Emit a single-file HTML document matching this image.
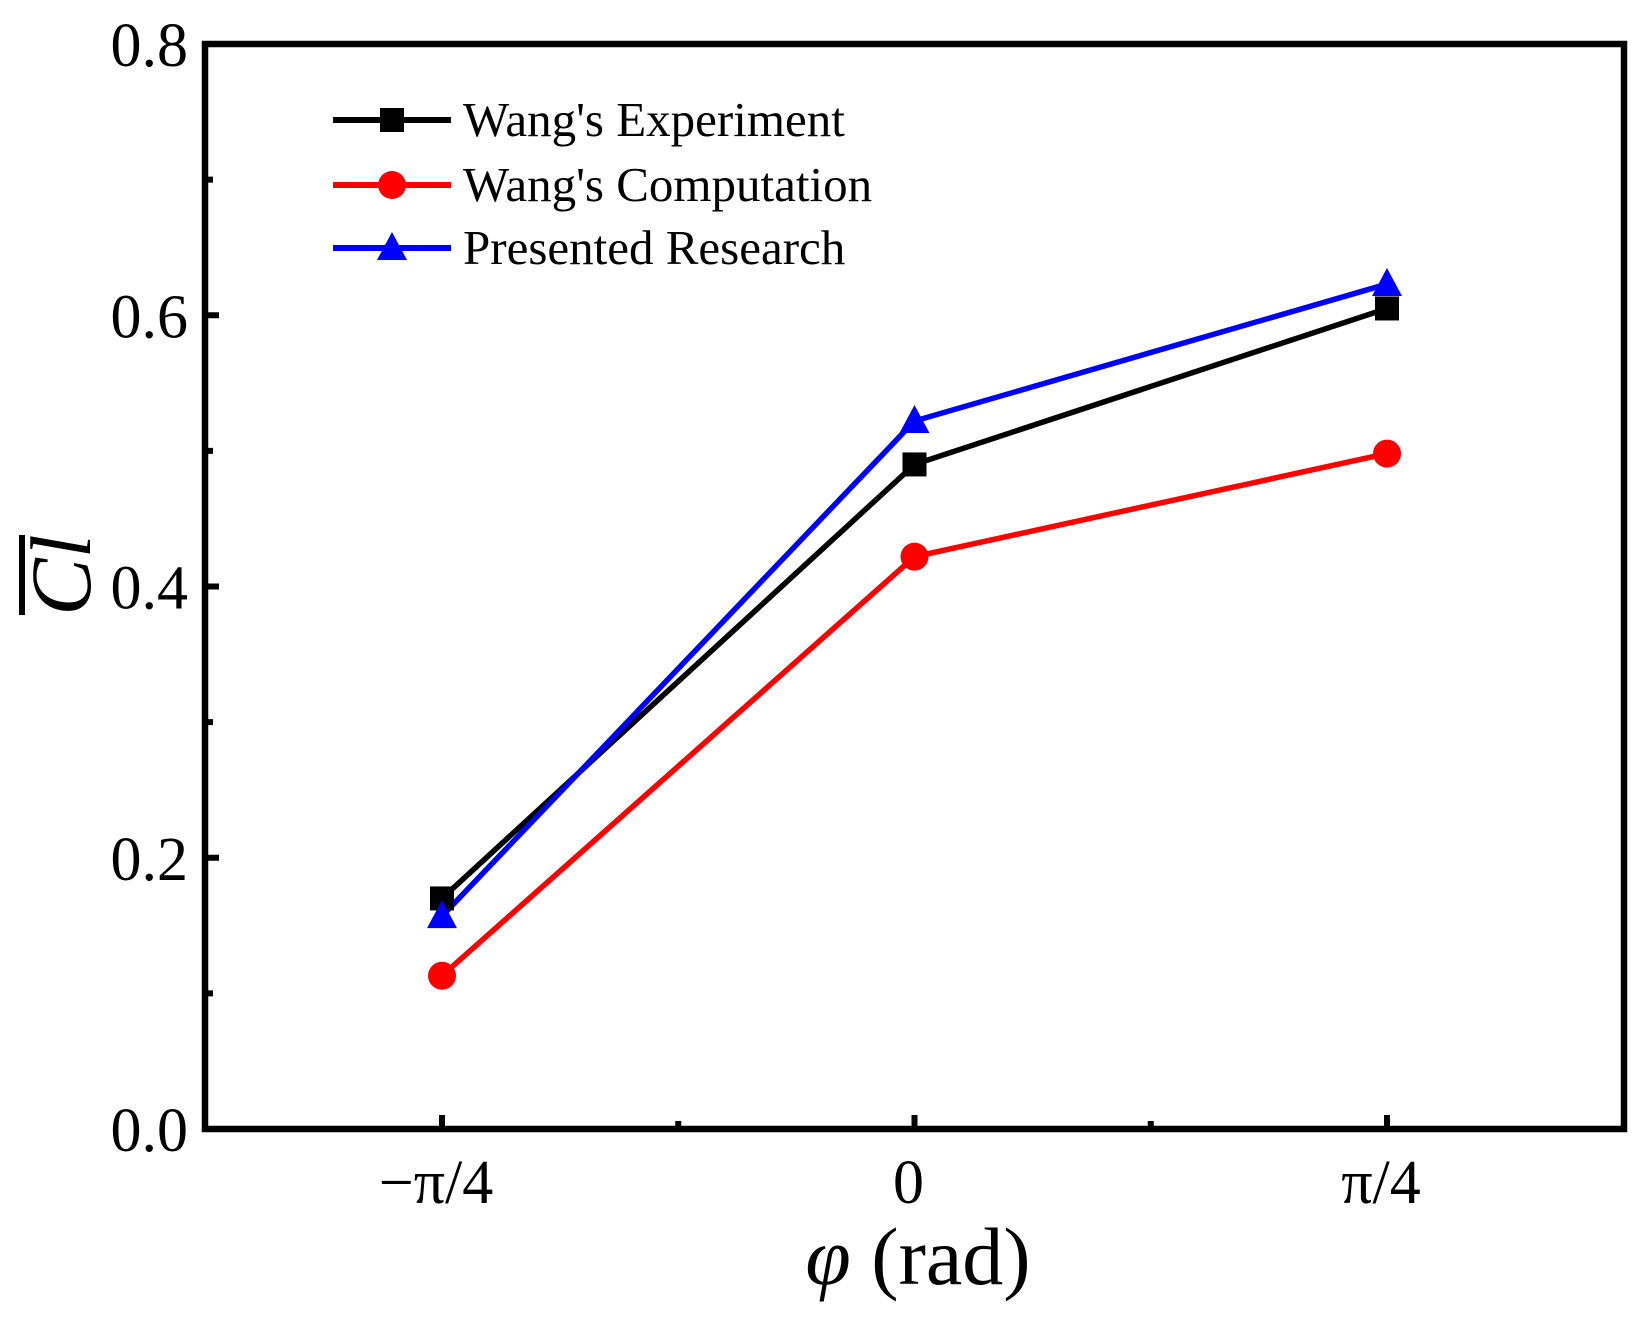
<!DOCTYPE html>
<html><head><meta charset="utf-8"><style>
html,body{margin:0;padding:0;background:#fff;}
svg{display:block;font-family:"Liberation Serif",serif;}
</style></head><body>
<svg id="chart" width="1643" height="1321" viewBox="0 0 1643 1321" xmlns="http://www.w3.org/2000/svg">
<g id="marks"></g>
<g id="axes"></g>
<g id="legend"></g>
<text x="918" y="1284" font-size="82" text-anchor="middle"><tspan font-style="italic">φ</tspan> (rad)</text>
<g transform="translate(90,575) rotate(-90)">
<text x="0" y="0" font-size="86" font-style="italic" text-anchor="middle">Cl</text>
<line x1="-40" y1="-68" x2="40" y2="-68" stroke="#000" stroke-width="6"/>
</g>
</svg>
<script>
const categories = ["−π/4", "0", "π/4"];
const experiment = [0.17, 0.49, 0.605];
const computation = [0.113, 0.422, 0.498];
const presented = [0.157, 0.522, 0.623];
const yTicks = [0.0, 0.2, 0.4, 0.6, 0.8];
const yTickLabels = ["0.0", "0.2", "0.4", "0.6", "0.8"];
const seriesNames = ["Wang's Experiment", "Wang's Computation", "Presented Research"];

const NS = "http://www.w3.org/2000/svg";
const L = 205, R = 1624, T = 44, B = 1129;
const xPos = i => 442 + i * 472.5;
const yPos = v => B - (v / 0.8) * (B - T);
function mk(tag, attrs, parent) {
  const e = document.createElementNS(NS, tag);
  for (const k in attrs) e.setAttribute(k, attrs[k]);
  parent.appendChild(e);
  return e;
}
const marks = document.getElementById('marks');
const axes = document.getElementById('axes');
const legend = document.getElementById('legend');
const colors = ["#000000", "#ff0000", "#0000ff"];
const shapes = ["square", "circle", "triangle"];
const series = [experiment, computation, presented];

function marker(shape, x, y, color, parent) {
  let m;
  if (shape === "square") m = mk('rect', {x: x - 12, y: y - 12, width: 24, height: 24, fill: color}, parent);
  else if (shape === "circle") m = mk('circle', {cx: x, cy: y, r: 14, fill: color}, parent);
  else m = mk('polygon', {points: `${x},${y - 16} ${x - 15},${y + 12} ${x + 15},${y + 12}`, fill: color}, parent);
  return m;
}

series.forEach((vals, s) => {
  const pts = vals.map((v, i) => xPos(i) + "," + yPos(v)).join(" ");
  const pl = mk('polyline', {points: pts, fill: "none", stroke: colors[s], "stroke-width": 5.5}, marks);
  
  
});
series.forEach((vals, s) => {
  vals.forEach((v, i) => {
    const m = marker(shapes[s], xPos(i), yPos(v), colors[s], marks);
    
    
  });
});

const fr = mk('rect', {x: L, y: T, width: R - L, height: B - T, fill: "none", stroke: "#000", "stroke-width": 6.5}, axes);



yTicks.forEach((v, i) => {
  const y = yPos(v);
  const t = mk('line', {x1: L, y1: y, x2: L + 14, y2: y, stroke: "#000", "stroke-width": 6}, axes);
  
  
  if (i < yTicks.length - 1) {
    const ym = yPos(v + 0.1);
    const mt = mk('line', {x1: L, y1: ym, x2: L + 8, y2: ym, stroke: "#000", "stroke-width": 6}, axes);
    
    
  }
  const lb = mk('text', {x: 188, y: y + 22, "font-size": 62, "text-anchor": "end"}, axes);
  lb.textContent = yTickLabels[i];
  
  
});

categories.forEach((c, i) => {
  const x = xPos(i);
  const t = mk('line', {x1: x, y1: B, x2: x, y2: B - 14, stroke: "#000", "stroke-width": 6}, axes);
  
  
  if (i < categories.length - 1) {
    const xm = (xPos(i) + xPos(i + 1)) / 2;
    const mt = mk('line', {x1: xm, y1: B, x2: xm, y2: B - 8, stroke: "#000", "stroke-width": 6}, axes);
    
    
  }
  const lb = mk('text', {x: x - 6, y: 1203, "font-size": 62, "text-anchor": "middle"}, axes);
  lb.textContent = c;
  
  
});

const legY = [120, 185, 248];
seriesNames.forEach((n, s) => {
  const g = mk('g', {}, legend);
  
  
  mk('line', {x1: 333, y1: legY[s], x2: 451, y2: legY[s], stroke: colors[s], "stroke-width": 6}, g);
  marker(shapes[s], 392, legY[s], colors[s], g);
  const tx = mk('text', {x: 463, y: legY[s] + 16, "font-size": 49}, g);
  tx.textContent = n;
});
</script>
</body></html>
